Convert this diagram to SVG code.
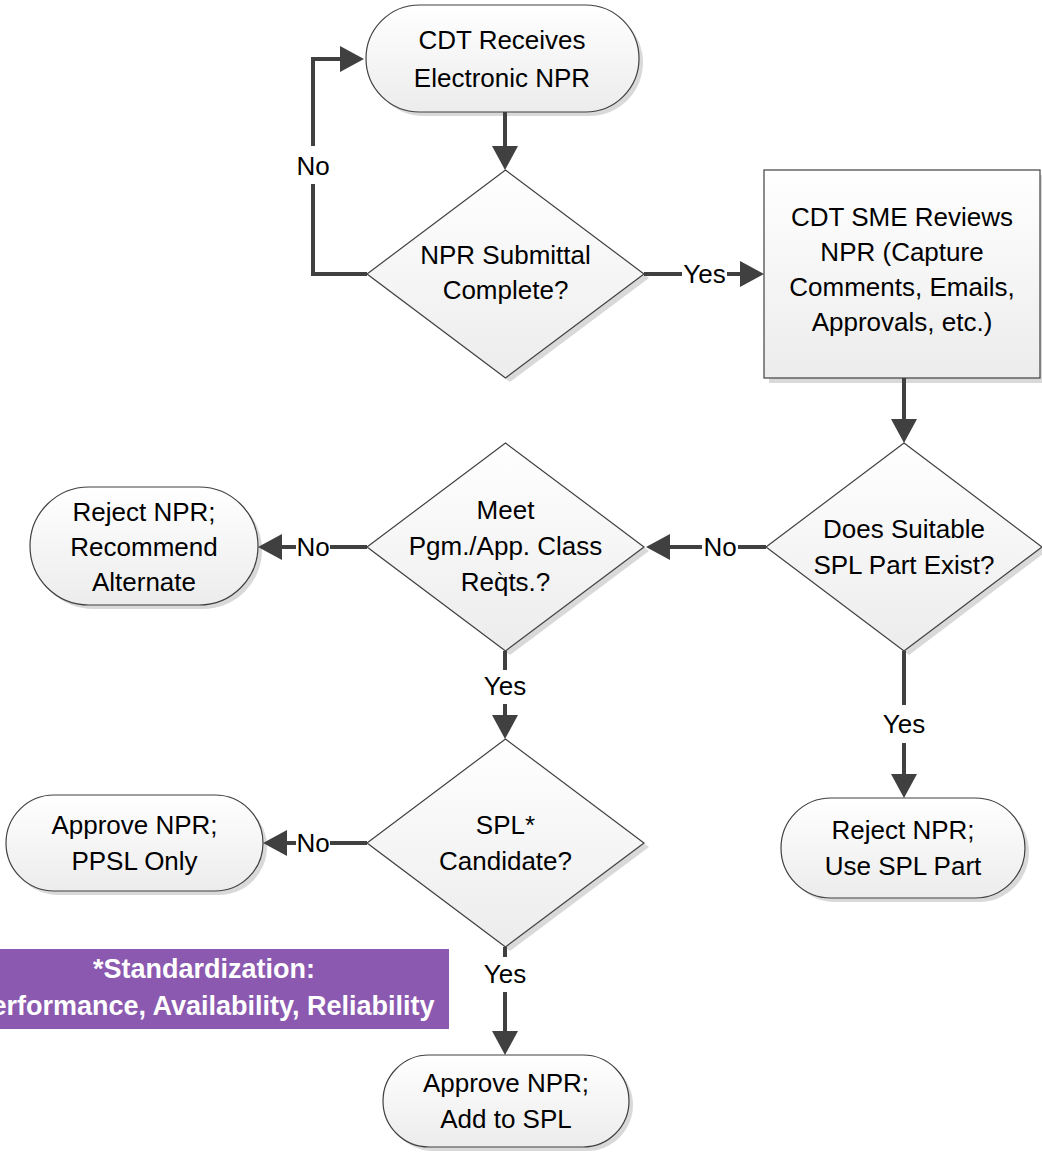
<svg xmlns="http://www.w3.org/2000/svg" width="1042" height="1153" viewBox="0 0 1042 1153">
<style>
  .shape { fill: url(#g); stroke: #404040; stroke-width: 1.2; }
  .shadow { fill: #d9d9d9; stroke: none; }
  .t { font-family: "Liberation Sans", Arial, sans-serif; font-size: 26px; fill: #000; text-anchor: middle; }
  .c { fill: none; stroke: #404040; stroke-width: 4; }
  .a { marker-end: url(#arr); }
  .note { font-family: "Liberation Sans", Arial, sans-serif; font-size: 27px; font-weight: bold; fill: #fff; text-anchor: middle; }
</style>
<defs>
  <linearGradient id="g" x1="0" y1="0" x2="0" y2="1">
    <stop offset="0" stop-color="#ffffff"/>
    <stop offset="1" stop-color="#ececec"/>
  </linearGradient>
  <marker id="arr" markerUnits="userSpaceOnUse" markerWidth="26" markerHeight="26" refX="16" refY="13" orient="auto">
    <path d="M0,0 L24,13 L0,26 Z" fill="#404040"/>
  </marker>
</defs>
<rect width="1042" height="1153" fill="#fff"/>

<g id="note">
  <rect x="-41" y="949" width="490" height="80" fill="#8b59b0"/>
  <text class="note" x="204" y="978">*Standardization:</text>
  <text class="note" x="204" y="1015">Performance, Availability, Reliability</text>
</g>

<g id="n1">
  <rect class="shadow" x="370" y="9" width="273" height="107" rx="53.5"/>
  <rect class="shape" x="366" y="5" width="273" height="107" rx="53.5"/>
  <text class="t" x="502" y="49">CDT Receives</text>
  <text class="t" x="502" y="87">Electronic NPR</text>
</g>

<g id="d1">
  <polygon class="shadow" points="510,174 649,278 510,382 371,278"/>
  <polygon class="shape" points="505.5,170 644,274 505.5,378 367,274"/>
  <text class="t" x="505.5" y="264">NPR Submittal</text>
  <text class="t" x="505.5" y="299">Complete?</text>
</g>

<g id="r1">
  <rect class="shadow" x="769" y="175" width="276" height="208"/>
  <rect class="shape" x="764" y="170" width="276" height="208"/>
  <text class="t" x="902" y="226">CDT SME Reviews</text>
  <text class="t" x="902" y="261">NPR (Capture</text>
  <text class="t" x="902" y="296">Comments, Emails,</text>
  <text class="t" x="902" y="331">Approvals, etc.)</text>
</g>

<g id="d2">
  <polygon class="shadow" points="909,447 1047,551 909,655 771,551"/>
  <polygon class="shape" points="904,443 1042,547 904,651 766,547"/>
  <text class="t" x="904" y="538">Does Suitable</text>
  <text class="t" x="904" y="574">SPL Part Exist?</text>
</g>

<g id="d3">
  <polygon class="shadow" points="510,447 649,551 510,655 371,551"/>
  <polygon class="shape" points="505.5,443 644,547 505.5,651 367,547"/>
  <text class="t" x="505.5" y="519">Meet</text>
  <text class="t" x="505.5" y="555">Pgm./App. Class</text>
  <text class="t" x="505.5" y="591">Reqts.?</text>
  <text class="t" x="500" y="586" style="font-size:18px">`</text>
</g>

<g id="t2">
  <rect class="shadow" x="34" y="491" width="228" height="118" rx="59"/>
  <rect class="shape" x="30" y="487" width="228" height="118" rx="59"/>
  <text class="t" x="144" y="521">Reject NPR;</text>
  <text class="t" x="144" y="556">Recommend</text>
  <text class="t" x="144" y="591">Alternate</text>
</g>

<g id="d4">
  <polygon class="shadow" points="510,743 649,847 510,951 371,847"/>
  <polygon class="shape" points="505.5,739 644,843 505.5,947 367,843"/>
  <text class="t" x="505.5" y="834">SPL*</text>
  <text class="t" x="505.5" y="870">Candidate?</text>
</g>

<g id="t3">
  <rect class="shadow" x="10" y="799" width="257" height="96" rx="48"/>
  <rect class="shape" x="6" y="795" width="257" height="96" rx="48"/>
  <text class="t" x="134.5" y="834">Approve NPR;</text>
  <text class="t" x="134.5" y="870">PPSL Only</text>
</g>

<g id="t4">
  <rect class="shadow" x="785" y="802" width="244" height="100" rx="50"/>
  <rect class="shape" x="781" y="798" width="244" height="100" rx="50"/>
  <text class="t" x="903" y="839">Reject NPR;</text>
  <text class="t" x="903" y="875">Use SPL Part</text>
</g>

<g id="t5">
  <rect class="shadow" x="387" y="1059" width="246" height="92" rx="46"/>
  <rect class="shape" x="383" y="1055" width="246" height="92" rx="46"/>
  <text class="t" x="506" y="1092">Approve NPR;</text>
  <text class="t" x="506" y="1128">Add to SPL</text>
</g>

<g id="connectors">
  <path class="c a" d="M505,112 L505,162"/>
  <path class="c" d="M367,274 L313,274 L313,184"/>
  <path class="c a" d="M313,146 L313,59 L356,59"/>
  <text class="t" x="313" y="175">No</text>

  <path class="c" d="M644,274 L682,274"/>
  <text class="t" x="704.5" y="283">Yes</text>
  <path class="c a" d="M727,274 L756,274"/>

  <path class="c a" d="M904,378 L904,435"/>

  <path class="c" d="M766,547 L738,547"/>
  <text class="t" x="720" y="556">No</text>
  <path class="c a" d="M702,547 L654,547"/>

  <path class="c" d="M367,547 L330,547"/>
  <text class="t" x="313" y="556">No</text>
  <path class="c a" d="M296,547 L266,547"/>

  <path class="c" d="M505,651 L505,670"/>
  <text class="t" x="505" y="695">Yes</text>
  <path class="c a" d="M505,704 L505,731"/>

  <path class="c" d="M367,843 L330,843"/>
  <text class="t" x="313" y="852">No</text>
  <path class="c a" d="M296,843 L271,843"/>

  <path class="c" d="M904,651 L904,705"/>
  <text class="t" x="904" y="733">Yes</text>
  <path class="c a" d="M904,743 L904,790"/>

  <path class="c" d="M505,947 L505,957"/>
  <text class="t" x="505" y="983">Yes</text>
  <path class="c a" d="M505,992 L505,1047"/>
</g>
</svg>
